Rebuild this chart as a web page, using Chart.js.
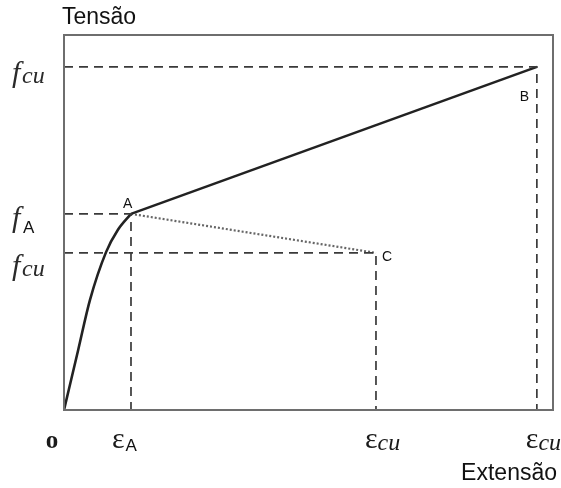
<!DOCTYPE html>
<html>
<head>
<meta charset="utf-8">
<script src="https://cdn.jsdelivr.net/npm/chart.js@4"></script>
<style>
  body { margin: 0; background: #fff; }
</style>
</head>
<body>
<canvas id="myChart" width="561" height="488"></canvas>
<script>
// curve O -> A (rising part), then straight A -> B, dotted A -> C
const riseX = [0, 2.9, 5.3, 8.6, 11, 13.7];
const riseY = [0, 16, 29.3, 42.1, 48, 52.3];

const pointNames = ['A', 'B', 'C'];
const pointX = [13.7, 96.7, 63.8];
const pointY = [52.3, 91.5, 41.9];

// tick labels
const xTickValues = [0, 13.7, 63.8, 96.7];
const xTickLabels = ['o', 'εA', 'εcu', 'εcu'];
const yTickValues = [91.5, 52.3, 41.9];
const yTickLabels = ['fcu', 'fA', 'fcu'];

const yTitle = 'Tensão';
const xTitle = 'Extensão';

const toPts = (xs, ys) => xs.map((x, i) => ({ x: x, y: ys[i] }));
const A = { x: pointX[0], y: pointY[0] };
const B = { x: pointX[1], y: pointY[1] };
const C = { x: pointX[2], y: pointY[2] };

const guide = (p) => ({
  data: [{ x: 0, y: p.y }, { x: p.x, y: p.y }, { x: p.x, y: 0 }],
  showLine: true,
  borderColor: '#3a3a3a',
  borderWidth: 1.7,
  borderDash: [9, 6],
  pointRadius: 0,
  fill: false
});

const SERIF = '"Liberation Serif", "Times New Roman", serif';
const SANS = '"Liberation Sans", Arial, sans-serif';

// frame + labels drawn with the scales
const decorations = {
  id: 'decorations',
  afterDraw(chart) {
    const c = chart.ctx;
    const a = chart.chartArea;
    const xs = chart.scales.x, ys = chart.scales.y;
    c.save();
    c.strokeStyle = '#6e6e6e';
    c.lineWidth = 2;
    c.strokeRect(a.left, a.top, a.right - a.left, a.bottom - a.top);

    c.fillStyle = '#111';
    c.textBaseline = 'alphabetic';

    // axis titles
    c.font = '23px ' + SANS;
    c.textAlign = 'left';
    c.fillText(yTitle, 62, 24);
    c.textAlign = 'right';
    c.fillText(xTitle, 557, 480);

    // point labels
    c.font = '14px ' + SANS;
    c.textAlign = 'left';
    const off = [[-8, -6], [-17, 34], [6, 8]];
    pointNames.forEach((n, i) => {
      c.fillText(n, xs.getPixelForValue(pointX[i]) + off[i][0], ys.getPixelForValue(pointY[i]) + off[i][1]);
    });

    // y tick labels (baseline offsets from the guide line)
    const yDy = [15, 13, 22];
    yTickValues.forEach((v, i) => {
      const base = ys.getPixelForValue(v) + yDy[i];
      const lab = yTickLabels[i];
      c.textAlign = 'left';
      c.fillStyle = '#2a2a2a';
      c.font = 'italic 30px ' + SERIF;
      c.fillText('f', 12, base);
      if (lab === 'fA') {
        c.font = '17px ' + SANS;
        c.fillStyle = '#111';
        c.fillText('A', 23, base + 6);
      } else {
        c.font = 'italic 24px ' + SERIF;
        c.fillText('cu', 22, base + 1);
      }
    });

    // x tick labels
    xTickValues.forEach((v, i) => {
      const px = xs.getPixelForValue(v);
      const lab = xTickLabels[i];
      const base = 448;
      c.fillStyle = '#1a1a1a';
      c.textAlign = 'left';
      if (lab === 'o') {
        c.font = 'bold 25px ' + SERIF;
        c.textAlign = 'center';
        c.fillText('o', px - 12, base);
        return;
      }
      c.font = '30px ' + SERIF;
      const ew = c.measureText('ε').width;
      if (lab === 'εA') {
        const x0 = px - 19;
        c.fillText('ε', x0, base);
        c.font = '17px ' + SANS;
        c.fillStyle = '#111';
        c.fillText('A', x0 + ew + 1, base + 3);
      } else {
        const x0 = px - 11;
        c.fillText('ε', x0, base);
        c.font = 'italic 24px ' + SERIF;
        c.fillText('cu', x0 + ew, base + 2);
      }
    });
    c.restore();
  }
};

const ctx = document.getElementById('myChart');

new Chart(ctx, {
  type: 'scatter',
  data: {
    datasets: [
      guide(B),
      guide(A),
      guide(C),
      {
        data: toPts(riseX, riseY),
        showLine: true,
        borderColor: '#222',
        borderWidth: 2.6,
        cubicInterpolationMode: 'monotone',
        pointRadius: 0
      },
      {
        data: [A, B],
        showLine: true,
        borderColor: '#222',
        borderWidth: 2.6,
        pointRadius: 0
      },
      {
        data: [A, C],
        showLine: true,
        borderColor: '#666',
        borderWidth: 2.2,
        borderDash: [2, 2],
        pointRadius: 0
      }
    ]
  },
  options: {
    responsive: false,
    animation: false,
    layout: { padding: { left: 64, top: 35, right: 8, bottom: 78 } },
    plugins: { legend: { display: false }, tooltip: { enabled: false } },
    scales: {
      x: { type: 'linear', min: 0, max: 100, display: false },
      y: { type: 'linear', min: 0, max: 100, display: false }
    }
  },
  plugins: [decorations]
});
</script>
</body>
</html>
